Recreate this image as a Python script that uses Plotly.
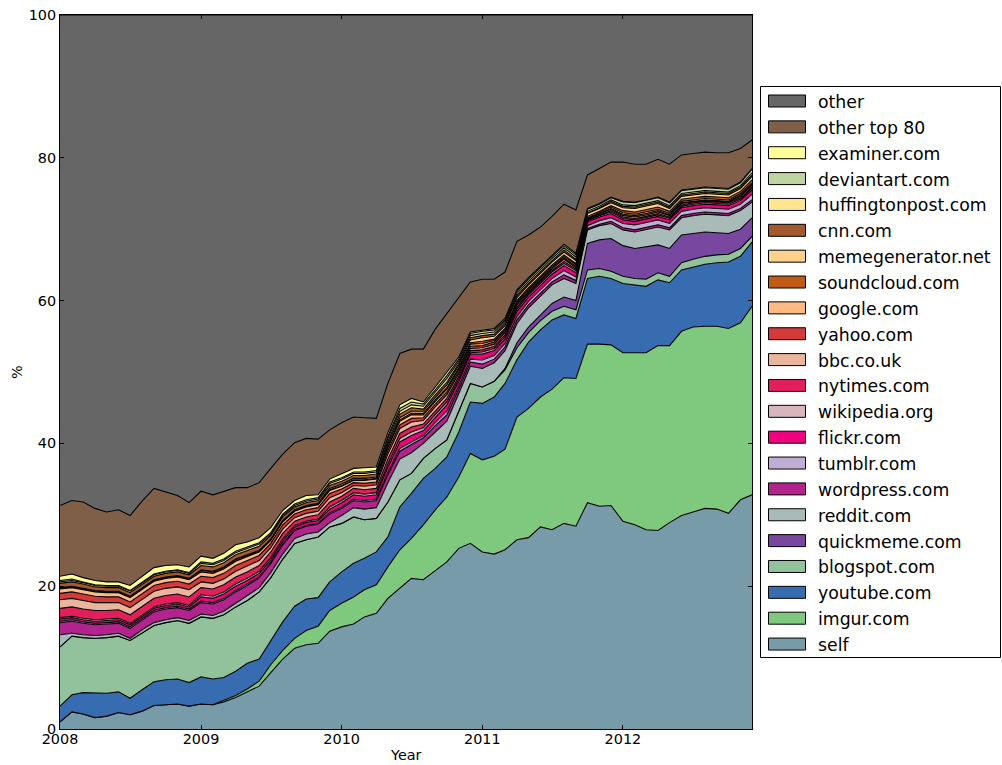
import pandas as pd
import plotly.graph_objects as go

# Monthly share of links by domain (%), Jan 2008 - Dec 2012
months = pd.date_range("2008-01-01", periods=60, freq="MS")

self_posts = [1.0, 2.4, 2.1, 1.6, 1.8, 2.3, 2.0, 2.5, 3.3, 3.4, 3.5, 3.2,
              3.5, 3.4, 3.8, 4.4, 5.2, 6.0, 7.9, 9.8, 11.3, 11.8, 12.0, 13.7,
              14.3, 14.7, 15.7, 16.2, 18.3, 19.7, 21.1, 20.9, 22.2, 23.4, 25.3, 26.0,
              24.8, 24.5, 25.1, 26.5, 26.8, 28.3, 27.9, 28.8, 28.4, 31.7, 31.2, 31.3,
              29.1, 28.6, 27.9, 27.8, 28.9, 29.9, 30.4, 30.9, 30.8, 30.2, 32.1, 32.8]
imgur = [0, 0, 0, 0, 0, 0, 0, 0, 0, 0, 0, 0,
         0, 0, 0.2, 0.3, 0.4, 0.7, 1.1, 1.2, 1.4, 2.0, 2.4, 2.9,
         3.3, 3.8, 3.8, 4.0, 4.4, 5.4, 5.6, 7.7, 8.5, 9.1, 10.0, 12.6,
         12.9, 13.7, 14.1, 17.2, 18.1, 18.2, 19.7, 20.4, 20.7, 22.2, 22.7, 22.5,
         23.6, 24.1, 24.8, 25.9, 24.8, 25.8, 25.9, 25.5, 25.6, 25.9, 24.8, 26.4]
youtube = [2.2, 2.4, 3.0, 3.4, 3.2, 2.9, 2.3, 3.0, 3.3, 3.5, 3.5, 3.3,
           3.8, 3.6, 3.2, 3.4, 3.6, 3.1, 3.4, 4.0, 4.5, 4.4, 4.0, 4.0,
           4.4, 4.7, 4.4, 4.6, 4.2, 6.0, 6.3, 6.5, 5.8, 5.6, 6.3, 7.2,
           7.9, 8.3, 9.2, 8.0, 9.3, 9.4, 9.7, 8.8, 8.4, 9.2, 9.5, 9.3,
           9.7, 9.5, 9.3, 9.2, 8.8, 8.6, 8.4, 8.7, 8.9, 9.3, 9.3, 9.0]
blogspot = [8.3, 8.2, 7.7, 7.7, 7.8, 7.8, 8.1, 8.0, 7.9, 8.0, 8.2, 8.3,
            8.4, 8.5, 8.8, 9.0, 8.8, 9.4, 8.8, 8.8, 8.8, 8.3, 8.5, 7.7,
            6.8, 6.5, 5.4, 4.7, 4.9, 3.8, 2.8, 2.8, 2.8, 2.4, 2.9, 2.6,
            2.3, 2.2, 1.9, 1.7, 1.3, 1.3, 1.2, 1.2, 1.2, 1.2, 1.1, 1.0,
            1.0, 0.9, 1.0, 1.0, 0.9, 1.0, 1.1, 1.1, 1.1, 1.1, 1.1, 0.8]
quickmeme = [0, 0, 0, 0, 0, 0, 0, 0, 0, 0, 0, 0,
             0, 0, 0, 0, 0, 0, 0, 0, 0, 0, 0, 0,
             0, 0, 0, 0, 0, 0, 0, 0, 0, 0, 0, 0,
             0, 0, 0.2, 0.7, 0.8, 0.8, 1.1, 1.3, 1.3, 3.7, 4.0, 4.6,
             4.3, 4.2, 4.5, 3.9, 3.9, 3.9, 3.6, 3.4, 3.1, 2.9, 2.7, 2.6]
reddit = [1.7, 0.4, 0.4, 0.4, 0.4, 0.4, 0.3, 0.4, 0.4, 0.4, 0.4, 0.4,
          0.4, 0.4, 0.5, 0.5, 0.6, 0.6, 0.7, 0.7, 0.7, 0.8, 0.7, 0.6,
          1.1, 1.3, 1.5, 1.5, 2.7, 2.9, 2.9, 2.1, 2.3, 2.6, 2.5, 2.4,
          2.6, 2.6, 2.5, 2.7, 2.7, 2.7, 2.6, 2.6, 2.4, 1.9, 2.0, 2.1,
          2.2, 2.3, 2.4, 2.5, 2.6, 2.4, 2.5, 2.5, 2.5, 2.5, 2.6, 2.2]
wordpress = [1.7, 1.7, 1.6, 1.5, 1.5, 1.4, 1.4, 1.4, 1.5, 1.5, 1.4, 1.4,
             1.6, 1.6, 1.6, 1.6, 1.5, 1.4, 1.3, 1.3, 1.1, 1.1, 1.1, 1.2,
             1.0, 1.0, 1.0, 1.0, 1.1, 1.1, 1.1, 0.8, 0.9, 0.9, 0.6, 0.6,
             0.6, 0.5, 0.5, 0.5, 0.4, 0.4, 0.4, 0.5, 0.4, 0.2, 0.2, 0.3,
             0.3, 0.3, 0.3, 0.3, 0.3, 0.3, 0.3, 0.3, 0.3, 0.3, 0.3, 0.3]
tumblr = [0.2, 0.2, 0.2, 0.2, 0.2, 0.2, 0.2, 0.2, 0.2, 0.2, 0.2, 0.2,
          0.2, 0.2, 0.2, 0.2, 0.2, 0.1, 0.1, 0.1, 0.1, 0.1, 0.1, 0.2,
          0.2, 0.2, 0.2, 0.2, 0.3, 0.4, 0.4, 0.3, 0.4, 0.5, 0.4, 0.4,
          0.6, 0.5, 0.5, 0.5, 0.5, 0.5, 0.5, 0.6, 0.5, 0.4, 0.5, 0.5,
          0.6, 0.7, 0.7, 0.7, 0.6, 0.6, 0.6, 0.6, 0.6, 0.6, 0.6, 0.8]
flickr = [0.3, 0.3, 0.3, 0.3, 0.3, 0.3, 0.3, 0.3, 0.3, 0.3, 0.3, 0.3,
          0.6, 0.6, 0.6, 0.6, 0.5, 0.5, 0.4, 0.4, 0.4, 0.4, 0.4, 0.5,
          0.6, 0.6, 0.6, 0.6, 0.8, 0.9, 0.9, 0.7, 0.8, 0.9, 0.7, 0.7,
          0.8, 0.7, 0.6, 0.7, 0.6, 0.6, 0.6, 0.7, 0.6, 0.5, 0.5, 0.6,
          0.5, 0.5, 0.5, 0.5, 0.5, 0.5, 0.5, 0.5, 0.5, 0.5, 0.5, 0.6]
wikipedia = [0.2, 0.2, 0.2, 0.2, 0.2, 0.2, 0.2, 0.2, 0.2, 0.2, 0.2, 0.2,
             0.3, 0.3, 0.3, 0.3, 0.3, 0.3, 0.3, 0.3, 0.2, 0.2, 0.2, 0.3,
             0.3, 0.3, 0.3, 0.3, 0.4, 0.5, 0.5, 0.4, 0.4, 0.4, 0.3, 0.2,
             0.3, 0.3, 0.3, 0.3, 0.3, 0.3, 0.3, 0.3, 0.3, 0.2, 0.2, 0.2,
             0.2, 0.2, 0.2, 0.2, 0.2, 0.2, 0.2, 0.2, 0.2, 0.2, 0.2, 0.2]
nytimes = [1.3, 1.3, 1.3, 1.3, 1.2, 1.2, 1.2, 1.2, 1.2, 1.2, 1.2, 1.2,
           1.0, 1.0, 1.0, 1.0, 0.9, 0.8, 0.8, 0.8, 0.6, 0.6, 0.6, 0.7,
           0.6, 0.6, 0.6, 0.6, 0.7, 0.7, 0.7, 0.5, 0.5, 0.5, 0.4, 0.3,
           0.3, 0.3, 0.3, 0.3, 0.2, 0.2, 0.2, 0.3, 0.2, 0.1, 0.1, 0.2,
           0.2, 0.2, 0.2, 0.2, 0.2, 0.2, 0.2, 0.2, 0.2, 0.2, 0.2, 0.2]
bbc = [1.2, 1.2, 1.2, 1.1, 1.1, 1.0, 1.0, 1.0, 1.0, 1.0, 1.0, 1.0,
       0.8, 0.8, 0.8, 0.8, 0.8, 0.7, 0.6, 0.6, 0.5, 0.5, 0.5, 0.6,
       0.5, 0.4, 0.5, 0.5, 0.7, 0.7, 0.7, 0.5, 0.5, 0.5, 0.4, 0.3,
       0.3, 0.3, 0.3, 0.3, 0.2, 0.2, 0.2, 0.3, 0.2, 0.1, 0.1, 0.2,
       0.2, 0.2, 0.2, 0.2, 0.2, 0.2, 0.1, 0.1, 0.1, 0.1, 0.2, 0.2]
yahoo = [0.9, 0.9, 0.9, 0.9, 0.8, 0.8, 0.8, 0.8, 0.8, 0.8, 0.8, 0.8,
         0.8, 0.8, 0.8, 0.8, 0.8, 0.7, 0.6, 0.6, 0.5, 0.5, 0.5, 0.6,
         0.5, 0.4, 0.4, 0.4, 0.5, 0.5, 0.5, 0.4, 0.4, 0.4, 0.3, 0.3,
         0.3, 0.3, 0.2, 0.2, 0.2, 0.2, 0.2, 0.2, 0.2, 0.1, 0.1, 0.1,
         0.2, 0.2, 0.2, 0.2, 0.1, 0.1, 0.1, 0.1, 0.1, 0.1, 0.2, 0.2]
google = [0.6, 0.6, 0.6, 0.6, 0.6, 0.6, 0.6, 0.6, 0.6, 0.6, 0.6, 0.6,
          0.6, 0.6, 0.6, 0.6, 0.5, 0.5, 0.4, 0.4, 0.4, 0.4, 0.4, 0.4,
          0.4, 0.3, 0.4, 0.4, 0.4, 0.5, 0.5, 0.4, 0.4, 0.4, 0.3, 0.3,
          0.3, 0.2, 0.2, 0.2, 0.2, 0.2, 0.2, 0.2, 0.2, 0.1, 0.1, 0.2,
          0.2, 0.2, 0.2, 0.2, 0.2, 0.2, 0.2, 0.2, 0.2, 0.2, 0.2, 0.2]
soundcloud = [0.1, 0.1, 0.1, 0.1, 0.1, 0.1, 0.1, 0.1, 0.1, 0.1, 0.1, 0.1,
              0.2, 0.2, 0.2, 0.2, 0.2, 0.1, 0.1, 0.1, 0.1, 0.1, 0.1, 0.1,
              0.1, 0.1, 0.1, 0.1, 0.2, 0.2, 0.2, 0.2, 0.2, 0.2, 0.2, 0.2,
              0.3, 0.2, 0.2, 0.2, 0.2, 0.2, 0.2, 0.2, 0.2, 0.2, 0.2, 0.2,
              0.3, 0.3, 0.3, 0.3, 0.3, 0.3, 0.3, 0.3, 0.3, 0.3, 0.3, 0.4]
memegenerator = [0.1, 0.1, 0.1, 0.1, 0.1, 0.1, 0.1, 0.1, 0.1, 0.1, 0.1, 0.1,
                 0.1, 0.1, 0.1, 0.1, 0.1, 0.1, 0.1, 0.1, 0.1, 0.1, 0.1, 0.2,
                 0.2, 0.2, 0.2, 0.2, 0.3, 0.3, 0.3, 0.3, 0.3, 0.4, 0.3, 0.4,
                 0.5, 0.4, 0.4, 0.4, 0.4, 0.4, 0.4, 0.4, 0.4, 0.4, 0.4, 0.4,
                 0.4, 0.5, 0.5, 0.5, 0.4, 0.4, 0.4, 0.4, 0.4, 0.4, 0.4, 0.5]
cnn = [0.6, 0.6, 0.6, 0.5, 0.5, 0.5, 0.5, 0.5, 0.5, 0.5, 0.5, 0.5,
       0.6, 0.6, 0.6, 0.6, 0.6, 0.6, 0.5, 0.5, 0.4, 0.4, 0.4, 0.4,
       0.4, 0.4, 0.4, 0.4, 0.4, 0.5, 0.5, 0.3, 0.4, 0.4, 0.3, 0.3,
       0.3, 0.3, 0.3, 0.3, 0.2, 0.2, 0.2, 0.3, 0.2, 0.1, 0.1, 0.2,
       0.2, 0.2, 0.2, 0.2, 0.2, 0.2, 0.2, 0.2, 0.2, 0.2, 0.2, 0.2]
huffingtonpost = [0.2, 0.2, 0.2, 0.2, 0.2, 0.2, 0.2, 0.2, 0.2, 0.2, 0.2, 0.2,
                  0.3, 0.3, 0.3, 0.3, 0.3, 0.3, 0.2, 0.2, 0.2, 0.2, 0.2, 0.3,
                  0.3, 0.3, 0.3, 0.3, 0.4, 0.4, 0.4, 0.4, 0.4, 0.5, 0.3, 0.3,
                  0.3, 0.3, 0.3, 0.3, 0.3, 0.3, 0.3, 0.3, 0.3, 0.2, 0.2, 0.2,
                  0.2, 0.2, 0.2, 0.2, 0.2, 0.2, 0.2, 0.2, 0.2, 0.2, 0.2, 0.3]
deviantart = [0.2, 0.2, 0.1, 0.1, 0.1, 0.1, 0.1, 0.1, 0.1, 0.1, 0.1, 0.1,
              0.2, 0.2, 0.2, 0.2, 0.2, 0.2, 0.2, 0.2, 0.2, 0.2, 0.2, 0.2,
              0.2, 0.2, 0.2, 0.2, 0.3, 0.4, 0.4, 0.3, 0.3, 0.4, 0.3, 0.3,
              0.3, 0.3, 0.2, 0.3, 0.3, 0.3, 0.3, 0.3, 0.3, 0.3, 0.3, 0.3,
              0.4, 0.4, 0.4, 0.4, 0.4, 0.4, 0.4, 0.4, 0.4, 0.4, 0.4, 0.5]
examiner = [0.6, 0.7, 0.6, 0.6, 0.5, 0.5, 0.7, 0.8, 0.9, 0.8, 0.7, 0.8,
            0.8, 0.7, 0.8, 0.9, 0.7, 0.7, 0.7, 0.5, 0.5, 0.6, 0.4, 0.4,
            0.6, 0.5, 0.6, 0.5, 0.5, 0.5, 0.5, 0.3, 0.4, 0.5, 0.3, 0.2,
            0.2, 0.2, 0.2, 0.2, 0.2, 0.1, 0.1, 0.2, 0.2, 0.1, 0.1, 0.1,
            0.1, 0.1, 0.1, 0.1, 0.1, 0.1, 0.1, 0.1, 0.1, 0.1, 0.1, 0.1]
other_top80 = [9.9, 10.3, 10.6, 10.1, 9.8, 10.1, 9.8, 10.5, 11.1, 10.3, 9.7, 9.0,
               9.1, 8.9, 8.7, 8.0, 7.6, 7.7, 8.3, 7.9, 8.1, 8.0, 7.8, 6.9,
               7.1, 7.2, 7.0, 6.8, 6.9, 7.2, 6.9, 7.4, 8.1, 8.2, 8.2, 7.0,
               7.1, 6.9, 6.5, 6.8, 6.0, 5.5, 5.5, 5.6, 6.1, 4.7, 4.9, 4.9,
               5.5, 5.3, 5.0, 5.3, 5.3, 4.9, 4.9, 4.9, 4.9, 5.0, 4.7, 4.0]
other = [68.7, 68.0, 68.2, 69.1, 69.6, 69.3, 70.1, 68.1, 66.3, 66.8, 67.3, 68.3,
         66.7, 67.2, 66.7, 66.2, 66.2, 65.5, 63.5, 61.5, 59.9, 59.3, 59.4, 58.1,
         57.1, 56.3, 56.4, 56.5, 51.6, 47.4, 46.8, 46.8, 44.0, 41.8, 39.7, 37.4,
         37.0, 37.0, 36.0, 31.7, 30.8, 29.7, 28.2, 26.5, 27.3, 22.4, 21.5, 20.6,
         20.6, 20.9, 20.9, 20.2, 20.9, 19.6, 19.4, 19.2, 19.3, 19.3, 18.7, 17.5]

# Stacking order, bottom to top: (label, values, fill colour)
layers = [
    ("self", self_posts, "#779ba9"),
    ("imgur.com", imgur, "#7fc97f"),
    ("youtube.com", youtube, "#386cb0"),
    ("blogspot.com", blogspot, "#92c29c"),
    ("quickmeme.com", quickmeme, "#7848a0"),
    ("reddit.com", reddit, "#a9bbb8"),
    ("wordpress.com", wordpress, "#b3238d"),
    ("tumblr.com", tumblr, "#beaed4"),
    ("flickr.com", flickr, "#f0027f"),
    ("wikipedia.org", wikipedia, "#d7b5bd"),
    ("nytimes.com", nytimes, "#e01f5b"),
    ("bbc.co.uk", bbc, "#e9b59c"),
    ("yahoo.com", yahoo, "#d43a3a"),
    ("google.com", google, "#fdba84"),
    ("soundcloud.com", soundcloud, "#bf5b17"),
    ("memegenerator.net", memegenerator, "#fdd18c"),
    ("cnn.com", cnn, "#a3582d"),
    ("huffingtonpost.com", huffingtonpost, "#fee58f"),
    ("deviantart.com", deviantart, "#bfd5a0"),
    ("examiner.com", examiner, "#ffff99"),
    ("other top 80", other_top80, "#7f5f47"),
    ("other", other, "#666666"),
]

FONT = "DejaVu Sans"
W, H = 1002, 765
L, R, T, B = 60, 250, 15, 36
PW, PH = W - L - R, H - T - B

fig = go.Figure()
for name, vals, color in layers:
    fig.add_trace(go.Scatter(
        x=months, y=vals, name=name, mode="lines",
        stackgroup="share", fillcolor=color,
        line=dict(color="black", width=1.1, shape="linear"),
        showlegend=False, hoverinfo="skip",
    ))


def px_x(px):
    return (px - L) / PW


def px_y(py):
    return (H - B - py) / PH


# Legend box drawn in pixel positions, listed top to bottom
shapes = [dict(type="rect", xref="paper", yref="paper",
               x0=px_x(760.5), x1=px_x(1000.5), y0=px_y(657.5), y1=px_y(86.5),
               line=dict(color="black", width=1), fillcolor="white", layer="above")]
annotations = []
row0, step = 101.0, 25.86
for k, (name, vals, color) in enumerate(reversed(layers)):
    cy = row0 + step * k
    shapes.append(dict(type="rect", xref="paper", yref="paper",
                       x0=px_x(768.5), x1=px_x(805.5), y0=px_y(cy + 6), y1=px_y(cy - 6),
                       line=dict(color="black", width=1), fillcolor=color, layer="above"))
    annotations.append(dict(xref="paper", yref="paper", x=px_x(816), y=px_y(cy + 1),
                            text=name, showarrow=False, xanchor="left", yanchor="middle",
                            font=dict(family=FONT, size=17.3, color="black")))

annotations.append(dict(xref="paper", yref="paper", x=px_x(406), y=px_y(755),
                        text="Year", showarrow=False, xanchor="center", yanchor="middle",
                        font=dict(family=FONT, size=14.4, color="black")))
annotations.append(dict(xref="paper", yref="paper", x=px_x(17), y=px_y(372),
                        text="%", showarrow=False, textangle=-90,
                        xanchor="center", yanchor="middle",
                        font=dict(family=FONT, size=14.4, color="black")))

axis_common = dict(showline=True, linecolor="black", linewidth=1, mirror="allticks",
                   ticks="inside", ticklen=4, tickwidth=1, tickcolor="black",
                   showgrid=False, zeroline=False, automargin=False,
                   tickfont=dict(family=FONT, size=14.4, color="black"))

fig.update_layout(
    width=W, height=H,
    margin=dict(l=L, r=R, t=T, b=B, pad=0, autoexpand=False),
    paper_bgcolor="white", plot_bgcolor="white",
    font=dict(family=FONT, size=14.4, color="black"),
    xaxis=dict(range=[months[0], months[-1]], tickformat="%Y",
               tickvals=pd.date_range("2008-01-01", periods=5, freq="YS"),
               ticklabelstandoff=-3, **axis_common),
    yaxis=dict(range=[0, 100], tickvals=[0, 20, 40, 60, 80, 100], **axis_common),
    shapes=shapes, annotations=annotations,
)

fig.write_html("out.html")
